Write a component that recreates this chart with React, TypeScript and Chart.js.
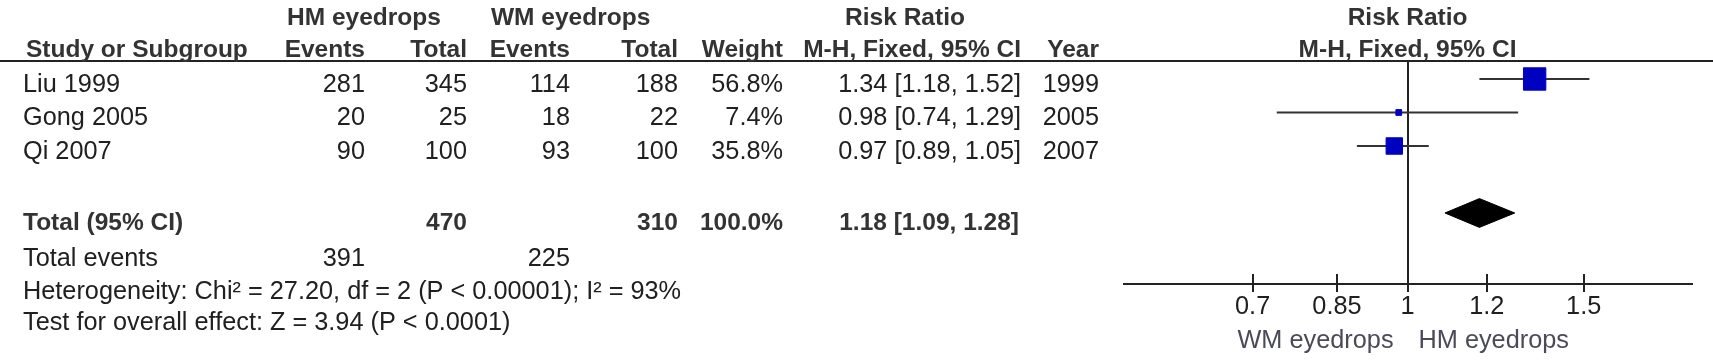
import React, { useEffect, useRef } from 'react';
import { Chart, registerables } from 'chart.js';

Chart.register(...registerables);

// ---------- data ----------
const studies = ['Liu 1999', 'Gong 2005', 'Qi 2007'];
const hmEvents = [281, 20, 90];
const hmTotals = [345, 25, 100];
const wmEvents = [114, 18, 93];
const wmTotals = [188, 22, 100];
const weights = [56.8, 7.4, 35.8];
const riskRatios = [1.34, 0.98, 0.97];
const ciLower = [1.18, 0.74, 0.89];
const ciUpper = [1.52, 1.29, 1.05];
const years = [1999, 2005, 2007];
const studyRows = [1, 2, 3];

const totalRow = 5;
const totalHM = 470;
const totalWM = 310;
const totalWeight = 100.0;
const totalRR = 1.18;
const totalLower = 1.09;
const totalUpper = 1.28;
const totalEventsHM = 391;
const totalEventsWM = 225;

const heterogeneityText = 'Heterogeneity: Chi\u00B2 = 27.20, df = 2 (P < 0.00001); I\u00B2 = 93%';
const overallEffectText = 'Test for overall effect: Z = 3.94 (P < 0.0001)';

const axisTicks = [0.7, 0.85, 1, 1.2, 1.5];
const axisMin = 0.52;
const axisMax = 1.925;
const favoursLeft = 'WM eyedrops';
const favoursRight = 'HM eyedrops';

// ---------- layout / style ----------
const FONT = '"Liberation Sans", Arial, sans-serif';
const FS = 25.3;
const FS_BOLD = 24.5;
const TEXT = '#202020';
const HEAD = '#333333';
const COL = { study: 23, hmEv: 365, hmTot: 467, wmEv: 570, wmTot: 678, weight: 783, rr: 1021, year: 1099 };
const HM_HEAD_LEFT = 287;
const WM_HEAD_LEFT = 491;
const RR_HEAD_CENTER = 905;
// alphabetic baselines
const HEAD1_BL = 25;
const HEAD2_BL = 57;
const ROW_BL_OFFSET = 13;
const TOTAL_BL = 230;
const EVENTS_BL = 266;
const HET_BL = 299;
const TEST_BL = 330;
const FAV_BL = 348;
const DIAMOND_HALF = 0.43;

const fmt2 = (v: number) => v.toFixed(2);
const ciText = (r: number, l: number, u: number) => `${fmt2(r)} [${fmt2(l)}, ${fmt2(u)}]`;

function put(
  ctx: CanvasRenderingContext2D,
  s: string,
  x: number,
  y: number,
  align: CanvasTextAlign,
  bold = false,
  color = TEXT
) {
  ctx.font = `${bold ? 'bold ' : ''}${bold ? FS_BOLD : FS}px ${FONT}`;
  ctx.fillStyle = color;
  ctx.textAlign = align;
  ctx.textBaseline = 'alphabetic';
  ctx.fillText(s, x, y);
}

const tablePlugin = {
  id: 'forestTable',
  afterDraw(chart: any) {
    const { ctx, chartArea } = chart;
    const xs = chart.scales.x;
    const ys = chart.scales.y;
    ctx.save();
    // header rule
    ctx.strokeStyle = '#222';
    ctx.lineWidth = 2;
    ctx.beginPath();
    ctx.moveTo(0, chartArea.top);
    ctx.lineTo(chart.width, chartArea.top);
    // upper halves of the axis ticks
    xs.ticks.forEach((t: any) => {
      const px = Math.round(xs.getPixelForValue(t.value));
      ctx.moveTo(px, chartArea.bottom - 10);
      ctx.lineTo(px, chartArea.bottom);
    });
    ctx.stroke();

    const x1 = xs.getPixelForValue(1);
    // headers
    put(ctx, 'HM eyedrops', HM_HEAD_LEFT, HEAD1_BL, 'left', true, HEAD);
    put(ctx, 'WM eyedrops', WM_HEAD_LEFT, HEAD1_BL, 'left', true, HEAD);
    put(ctx, 'Risk Ratio', RR_HEAD_CENTER, HEAD1_BL, 'center', true, HEAD);
    put(ctx, 'Risk Ratio', x1, HEAD1_BL, 'center', true, HEAD);
    put(ctx, 'Study or Subgroup', COL.study + 3, HEAD2_BL, 'left', true, HEAD);
    put(ctx, 'Events', COL.hmEv, HEAD2_BL, 'right', true, HEAD);
    put(ctx, 'Total', COL.hmTot, HEAD2_BL, 'right', true, HEAD);
    put(ctx, 'Events', COL.wmEv, HEAD2_BL, 'right', true, HEAD);
    put(ctx, 'Total', COL.wmTot, HEAD2_BL, 'right', true, HEAD);
    put(ctx, 'Weight', COL.weight, HEAD2_BL, 'right', true, HEAD);
    put(ctx, 'M-H, Fixed, 95% CI', COL.rr, HEAD2_BL, 'right', true, HEAD);
    put(ctx, 'Year', COL.year, HEAD2_BL, 'right', true, HEAD);
    put(ctx, 'M-H, Fixed, 95% CI', x1, HEAD2_BL, 'center', true, HEAD);

    // study rows
    studies.forEach((s, i) => {
      const y = ys.getPixelForValue(studyRows[i]) + ROW_BL_OFFSET;
      put(ctx, s, COL.study, y, 'left');
      put(ctx, String(hmEvents[i]), COL.hmEv, y, 'right');
      put(ctx, String(hmTotals[i]), COL.hmTot, y, 'right');
      put(ctx, String(wmEvents[i]), COL.wmEv, y, 'right');
      put(ctx, String(wmTotals[i]), COL.wmTot, y, 'right');
      put(ctx, `${weights[i].toFixed(1)}%`, COL.weight, y, 'right');
      put(ctx, ciText(riskRatios[i], ciLower[i], ciUpper[i]), COL.rr, y, 'right');
      put(ctx, String(years[i]), COL.year, y, 'right');
    });

    // total
    put(ctx, 'Total (95% CI)', COL.study, TOTAL_BL, 'left', true, HEAD);
    put(ctx, String(totalHM), COL.hmTot, TOTAL_BL, 'right', true, HEAD);
    put(ctx, String(totalWM), COL.wmTot, TOTAL_BL, 'right', true, HEAD);
    put(ctx, `${totalWeight.toFixed(1)}%`, COL.weight, TOTAL_BL, 'right', true, HEAD);
    put(ctx, ciText(totalRR, totalLower, totalUpper), COL.rr - 2, TOTAL_BL, 'right', true, HEAD);

    put(ctx, 'Total events', COL.study, EVENTS_BL, 'left');
    put(ctx, String(totalEventsHM), COL.hmEv, EVENTS_BL, 'right');
    put(ctx, String(totalEventsWM), COL.wmEv, EVENTS_BL, 'right');
    put(ctx, heterogeneityText, COL.study, HET_BL, 'left');
    put(ctx, overallEffectText, COL.study, TEST_BL, 'left');

    // favours labels
    put(ctx, favoursLeft, x1 - 14, FAV_BL, 'right', false, '#4a4a58');
    put(ctx, favoursRight, x1 + 11, FAV_BL, 'left', false, '#4a4a58');
    ctx.restore();
  },
};

export default function App() {
  const ref = useRef<HTMLCanvasElement>(null);
  useEffect(() => {
    const canvas = ref.current;
    if (!canvas) return;
    const diamond = [
      { x: totalLower, y: totalRow },
      { x: totalRR, y: totalRow - DIAMOND_HALF },
      { x: totalUpper, y: totalRow },
      { x: totalRR, y: totalRow + DIAMOND_HALF },
      { x: totalLower, y: totalRow },
    ];
    const chart = new Chart(canvas, {
      type: 'scatter',
      data: {
        datasets: [
          {
            type: 'scatter',
            data: studyRows.map((r, i) => ({ x: riskRatios[i], y: r })),
            pointStyle: 'rect',
            pointRadius: (c: any) => 1.07 * Math.pow(weights[c.dataIndex], 2 / 3),
            backgroundColor: '#0000c0',
            borderColor: '#0000c0',
            borderWidth: 1,
            order: 0,
          } as any,
          {
            type: 'line',
            data: diamond,
            fill: 'shape',
            backgroundColor: '#000',
            borderColor: '#000',
            borderWidth: 1,
            pointRadius: 0,
            tension: 0,
            order: 1,
          } as any,
          ...(studyRows.map((r, i) => ({
            type: 'line',
            data: [
              { x: ciLower[i], y: r },
              { x: ciUpper[i], y: r },
            ],
            borderColor: '#333',
            borderWidth: 2,
            pointRadius: 0,
            fill: false,
            order: 2,
          })) as any[]),
        ],
      },
      options: {
        responsive: false,
        animation: false,
        devicePixelRatio: 1,
        events: [],
        layout: { padding: { left: 1123.5, right: 21, top: 61, bottom: 0 } },
        plugins: { legend: { display: false }, tooltip: { enabled: false } },
        scales: {
          x: {
            type: 'logarithmic',
            position: 'bottom',
            min: axisMin,
            max: axisMax,
            afterBuildTicks: (s: any) => {
              s.ticks = axisTicks.map((v) => ({ value: v }));
            },
            afterFit: (s: any) => {
              s.height = 80;
            },
            ticks: {
              callback: (v: any) => String(v),
              font: { family: FONT, size: FS },
              color: TEXT,
              padding: 0,
              autoSkip: false,
              maxRotation: 0,
            },
            grid: {
              color: (c: any) => (c.tick && c.tick.value === 1 ? '#222' : 'rgba(0,0,0,0)'),
              tickColor: '#222',
              lineWidth: 2,
              tickLength: 8,
              drawOnChartArea: true,
              drawTicks: true,
            },
            border: { display: true, color: '#222', width: 2 },
          },
          y: { type: 'linear', display: false, reverse: true, min: 0.463, max: 7.12 },
        },
      } as any,
      plugins: [tablePlugin],
    });
    return () => chart.destroy();
  }, []);
  return (
    <div style={{ position: 'absolute', left: 0, top: 0, width: 1713, height: 364, background: '#fff' }}>
      <canvas ref={ref} width={1713} height={364} style={{ display: 'block', width: 1713, height: 364 }} />
    </div>
  );
}
